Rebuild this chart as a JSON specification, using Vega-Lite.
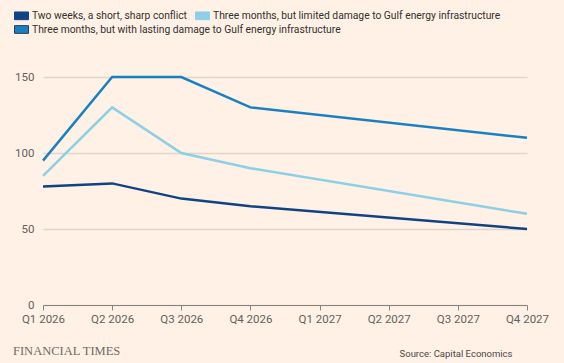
{
  "$schema": "https://vega.github.io/schema/vega-lite/v6.json",
  "autosize": "none",
  "width": 484,
  "height": 228,
  "padding": {"left": 43, "top": 77, "right": 37, "bottom": 58},
  "background": "#fff1e5",
  "config": {
    "view": {"stroke": null},
    "font": "Roboto"
  },
  "title": {
    "text": "FINANCIAL TIMES",
    "orient": "bottom",
    "anchor": "start",
    "frame": "group",
    "font": "Liberation Serif",
    "fontSize": 12.5,
    "fontWeight": "normal",
    "color": "#6f6a66",
    "dx": -30,
    "offset": -13
  },
  "data": {
    "values": [
      {"quarter": "Q1 2026", "scenario": "Two weeks, a short, sharp conflict", "value": 78},
      {"quarter": "Q2 2026", "scenario": "Two weeks, a short, sharp conflict", "value": 80},
      {"quarter": "Q3 2026", "scenario": "Two weeks, a short, sharp conflict", "value": 70},
      {"quarter": "Q4 2026", "scenario": "Two weeks, a short, sharp conflict", "value": 65},
      {"quarter": "Q4 2027", "scenario": "Two weeks, a short, sharp conflict", "value": 50},
      {"quarter": "Q1 2026", "scenario": "Three months, but limited damage to Gulf energy infrastructure", "value": 85},
      {"quarter": "Q2 2026", "scenario": "Three months, but limited damage to Gulf energy infrastructure", "value": 130},
      {"quarter": "Q3 2026", "scenario": "Three months, but limited damage to Gulf energy infrastructure", "value": 100},
      {"quarter": "Q4 2026", "scenario": "Three months, but limited damage to Gulf energy infrastructure", "value": 90},
      {"quarter": "Q4 2027", "scenario": "Three months, but limited damage to Gulf energy infrastructure", "value": 60},
      {"quarter": "Q1 2026", "scenario": "Three months, but with lasting damage to Gulf energy infrastructure", "value": 95},
      {"quarter": "Q2 2026", "scenario": "Three months, but with lasting damage to Gulf energy infrastructure", "value": 150},
      {"quarter": "Q3 2026", "scenario": "Three months, but with lasting damage to Gulf energy infrastructure", "value": 150},
      {"quarter": "Q4 2026", "scenario": "Three months, but with lasting damage to Gulf energy infrastructure", "value": 130},
      {"quarter": "Q4 2027", "scenario": "Three months, but with lasting damage to Gulf energy infrastructure", "value": 110}
    ]
  },
  "encoding": {
    "x": {
      "field": "quarter",
      "type": "ordinal",
      "scale": {
        "type": "point",
        "padding": 0,
        "domain": ["Q1 2026", "Q2 2026", "Q3 2026", "Q4 2026", "Q1 2027", "Q2 2027", "Q3 2027", "Q4 2027"]
      },
      "axis": {
        "title": "Source: Capital Economics",
        "titleAnchor": "end",
        "titleAlign": "right",
        "titleBaseline": "middle",
        "titleX": 469,
        "titleY": 48,
        "titleFont": "Roboto",
        "titleFontSize": 9.5,
        "titleFontWeight": "normal",
        "titleColor": "#4d4845",
        "labelAngle": 0,
        "labelFontSize": 11.5,
        "labelColor": "#66605c",
        "labelPadding": 3,
        "domainColor": "#8a8580",
        "domainWidth": 1,
        "tickColor": "#8a8580",
        "tickSize": 5,
        "grid": false
      }
    },
    "y": {
      "field": "value",
      "type": "quantitative",
      "scale": {"domain": [0, 150], "nice": false},
      "axis": {
        "title": null,
        "values": [0, 50, 100, 150],
        "domain": false,
        "ticks": false,
        "labelFontSize": 11.5,
        "labelColor": "#66605c",
        "labelPadding": 9,
        "grid": true,
        "gridColor": "#e0d5c9",
        "gridWidth": 1.5
      }
    }
  },
  "layer": [
    {
      "mark": {"type": "line", "strokeWidth": 2.5, "clip": false},
      "encoding": {
        "color": {
          "field": "scenario",
          "type": "nominal",
          "scale": {
            "domain": [
              "Two weeks, a short, sharp conflict",
              "Three months, but limited damage to Gulf energy infrastructure",
              "Three months, but with lasting damage to Gulf energy infrastructure"
            ],
            "range": ["#0f4383", "#8ccfe6", "#1a80c4"]
          },
          "legend": {
            "title": null,
            "orient": "none",
            "direction": "horizontal",
            "legendX": -29,
            "legendY": -69,
            "values": [
              "Two weeks, a short, sharp conflict",
              "Three months, but limited damage to Gulf energy infrastructure"
            ],
            "columnPadding": 6,
            "symbolType": "M-1,-0.55H1V0.55H-1Z",
            "symbolSize": 196,
            "labelFontSize": 10.3,
            "labelColor": "#33302e",
            "labelOffset": 3,
            "labelLimit": 400,
            "encode": {
              "symbols": {
                "update": {
                  "fill": {"scale": "color", "field": "value"},
                  "fillOpacity": {"value": 1},
                  "stroke": {"value": "#2a3b52"},
                  "strokeWidth": {"value": 1}
                }
              }
            }
          }
        }
      }
    },
    {
      "transform": [
        {"filter": "datum.scenario === 'Three months, but with lasting damage to Gulf energy infrastructure'"}
      ],
      "mark": {"type": "point", "opacity": 0, "filled": true},
      "encoding": {
        "fill": {
          "field": "scenario",
          "type": "nominal",
          "scale": {
            "domain": ["Three months, but with lasting damage to Gulf energy infrastructure"],
            "range": ["#1a80c4"]
          },
          "legend": {
            "title": null,
            "orient": "none",
            "direction": "horizontal",
            "legendX": -29,
            "legendY": -55,
            "symbolType": "M-1,-0.55H1V0.55H-1Z",
            "symbolSize": 196,
            "labelFontSize": 10.3,
            "labelColor": "#33302e",
            "labelOffset": 3,
            "labelLimit": 400,
            "encode": {
              "symbols": {
                "update": {
                  "fill": {"scale": "fill", "field": "value"},
                  "opacity": {"value": 1},
                  "fillOpacity": {"value": 1},
                  "stroke": {"value": "#2a3b52"},
                  "strokeWidth": {"value": 1}
                }
              }
            }
          }
        }
      }
    }
  ]
}
